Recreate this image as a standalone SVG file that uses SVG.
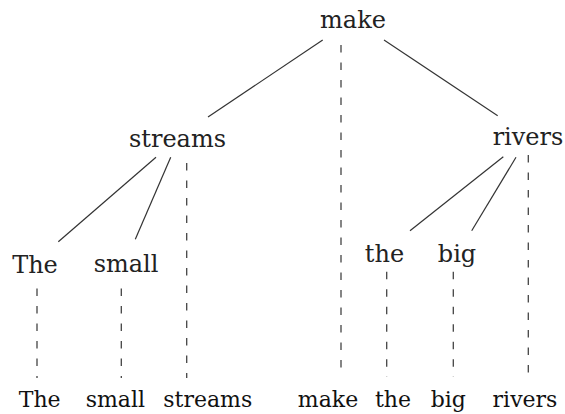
<svg xmlns="http://www.w3.org/2000/svg" width="565" height="414" viewBox="0 0 565 414">
<style>
.lbl{font-family:'DejaVu Serif',serif;font-size:24px;fill:#222;text-anchor:middle}
.leaf{font-family:'DejaVu Serif',serif;font-size:22px;fill:#111;text-anchor:middle}
.edge{stroke:#333;stroke-width:1.2;fill:none}
.dash{stroke:#444;stroke-width:1.3;fill:none;stroke-dasharray:7.5 10}
</style>
<rect width="565" height="414" fill="#fff"/>
<g id="connectors">
<line class="edge" x1="322.7" y1="40" x2="208" y2="117"/>
<line class="edge" x1="384" y1="40" x2="497.7" y2="115.7"/>
<line class="edge" x1="156" y1="157.3" x2="58.3" y2="241.7"/>
<line class="edge" x1="170.7" y1="157.3" x2="135.3" y2="239.3"/>
<line class="edge" x1="503.3" y1="156.7" x2="410" y2="230.7"/>
<line class="edge" x1="516" y1="157.3" x2="471.7" y2="230.7"/>
<line class="dash" x1="341" y1="45" x2="341" y2="374"/>
<line class="dash" x1="186.7" y1="163" x2="186.7" y2="378"/>
<line class="dash" x1="528.3" y1="155" x2="528.3" y2="376"/>
<line class="dash" x1="37" y1="288.5" x2="37" y2="378"/>
<line class="dash" x1="121.3" y1="288.5" x2="121.3" y2="378"/>
<line class="dash" x1="386.7" y1="271.7" x2="386.7" y2="377"/>
<line class="dash" x1="453.3" y1="271.7" x2="453.3" y2="377"/>
</g>
<g id="n-make"><text class="lbl" x="353" y="28.3">make</text></g>
<g id="n-streams"><text class="lbl" x="177.5" y="146.7">streams</text></g>
<g id="n-rivers"><text class="lbl" x="528" y="145">rivers</text></g>
<g id="n-The"><text class="lbl" x="35" y="272.5">The</text></g>
<g id="n-small"><text class="lbl" x="126" y="271.7">small</text></g>
<g id="n-the"><text class="lbl" x="384.5" y="261.7">the</text></g>
<g id="n-big"><text class="lbl" x="457" y="261.7">big</text></g>
<g id="leaves">
<text class="leaf" x="39.7" y="406.7">The</text>
<text class="leaf" x="115.3" y="406.7">small</text>
<text class="leaf" x="207.8" y="406.7">streams</text>
<text class="leaf" x="328" y="406.7">make</text>
<text class="leaf" x="393" y="406.7">the</text>
<text class="leaf" x="448.3" y="406.7">big</text>
<text class="leaf" x="525" y="406.7">rivers</text>
</g>
</svg>
